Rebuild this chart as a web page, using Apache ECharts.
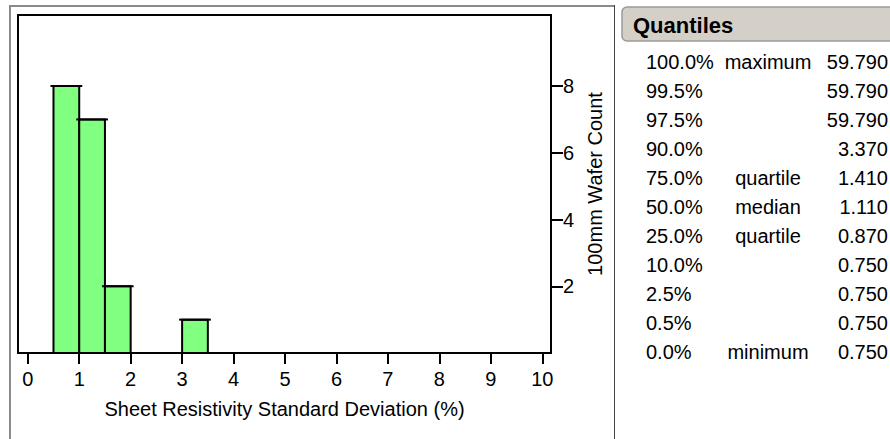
<!DOCTYPE html>
<html>
<head>
<meta charset="utf-8">
<script src="https://cdn.jsdelivr.net/npm/echarts@6/dist/echarts.min.js"></script>
<style>
  html, body { margin: 0; padding: 0; background: #fff; }
  #chart { width: 890px; height: 439px; }
</style>
</head>
<body>
<div id="chart"></div>
<script>
// ---- data ----
const xTickValues = [0, 1, 2, 3, 4, 5, 6, 7, 8, 9, 10];
const yTickValues = [2, 4, 6, 8];
const binStarts = [0.5, 1.0, 1.5, 3.0];
const binEnds   = [1.0, 1.5, 2.0, 3.5];
const binCounts = [8, 7, 2, 1];
const quantileLevels = ['100.0%', '99.5%', '97.5%', '90.0%', '75.0%', '50.0%', '25.0%', '10.0%', '2.5%', '0.5%', '0.0%'];
const quantileNames  = ['maximum', '', '', '', 'quartile', 'median', 'quartile', '', '', '', 'minimum'];
const quantileValues = ['59.790', '59.790', '59.790', '3.370', '1.410', '1.110', '0.870', '0.750', '0.750', '0.750', '0.750'];
const xTitle = 'Sheet Resistivity Standard Deviation (%)';
const yTitle = '100mm Wafer Count';
const tableTitle = 'Quantiles';

const FONT = '"Liberation Sans", Arial, Helvetica, sans-serif';
const histData = binStarts.map((s, i) => [s, binEnds[i], binCounts[i]]);

const graphics = [
  { type: 'line', shape: { x1: 9, y1: 6, x2: 615, y2: 6 }, style: { stroke: '#8a8a8a', lineWidth: 2 } },
  { type: 'line', shape: { x1: 10, y1: 5, x2: 10, y2: 439 }, style: { stroke: '#8a8a8a', lineWidth: 2 } },
  { type: 'line', shape: { x1: 614.5, y1: 5, x2: 614.5, y2: 439 }, style: { stroke: '#444', lineWidth: 1 } },
  { type: 'rect', shape: { x: 622, y: 7, width: 290, height: 34, r: [5, 0, 0, 5] },
    style: { fill: '#d4d0c8', stroke: '#9a9a9a', lineWidth: 1.5 } },
  { type: 'text', x: 633, y: 25,
    style: { text: tableTitle, font: 'bold 22px ' + FONT, fill: '#000', align: 'left', verticalAlign: 'middle', textAlign: 'left', textVerticalAlign: 'middle' } }
];
quantileLevels.forEach((lv, i) => {
  const y = 62 + 29 * i;
  graphics.push({ type: 'text', x: 646, y: y,
    style: { text: lv, font: '20px ' + FONT, fill: '#000', align: 'left', verticalAlign: 'middle', textAlign: 'left', textVerticalAlign: 'middle' } });
  if (quantileNames[i]) {
    graphics.push({ type: 'text', x: 768, y: y,
      style: { text: quantileNames[i], font: '20px ' + FONT, fill: '#000', align: 'center', verticalAlign: 'middle', textAlign: 'center', textVerticalAlign: 'middle' } });
  }
  graphics.push({ type: 'text', x: 888, y: y,
    style: { text: quantileValues[i], font: '20px ' + FONT, fill: '#000', align: 'right', verticalAlign: 'middle', textAlign: 'right', textVerticalAlign: 'middle' } });
});

const chart = echarts.init(document.getElementById('chart'), null, { renderer: 'svg' });
chart.setOption({
  animation: false,
  backgroundColor: '#fff',
  textStyle: { fontFamily: FONT },
  grid: { left: 18, top: 15, right: 339, bottom: 86, show: true, borderColor: '#000', borderWidth: 2, backgroundColor: '#fff' },
  xAxis: {
    type: 'value', min: -0.19, max: 10.17,
    name: xTitle, nameLocation: 'middle', nameGap: 46,
    nameTextStyle: { fontSize: 20, color: '#000', fontFamily: FONT },
    axisLine: { show: true, onZero: false, lineStyle: { color: '#000', width: 2 } },
    axisTick: { show: true, length: 11, lineStyle: { color: '#000', width: 2 }, customValues: xTickValues },
    axisLabel: { show: true, fontSize: 20, color: '#000', margin: 16, fontFamily: FONT, customValues: xTickValues },
    splitLine: { show: false }
  },
  yAxis: {
    type: 'value', min: 0, max: 10.13, position: 'right',
    name: yTitle, nameLocation: 'middle', nameGap: 28,
    nameTextStyle: { fontSize: 20, color: '#000', fontFamily: FONT },
    axisLine: { show: true, onZero: false, lineStyle: { color: '#000', width: 2 } },
    axisTick: { show: true, length: 12, lineStyle: { color: '#000', width: 2 }, customValues: yTickValues },
    axisLabel: { show: true, fontSize: 20, color: '#000', margin: 12, fontFamily: FONT, customValues: yTickValues },
    splitLine: { show: false }
  },
  series: [{
    type: 'custom',
    data: histData,
    encode: { x: [0, 1], y: 2 },
    renderItem: function (params, api) {
      const p0 = api.coord([api.value(0), 0]);
      const p1 = api.coord([api.value(1), api.value(2)]);
      return {
        type: 'group',
        children: [
          { type: 'rect', shape: { x: p0[0], y: p1[1], width: p1[0] - p0[0], height: p0[1] - p1[1] },
            style: { fill: '#80ff80', stroke: '#000', lineWidth: 2 } },
          { type: 'line', shape: { x1: p0[0] - 3, y1: p1[1], x2: p1[0] + 3, y2: p1[1] },
            style: { stroke: '#000', lineWidth: 2 } }
        ]
      };
    }
  }],
  graphic: graphics
});
</script>
</body>
</html>
